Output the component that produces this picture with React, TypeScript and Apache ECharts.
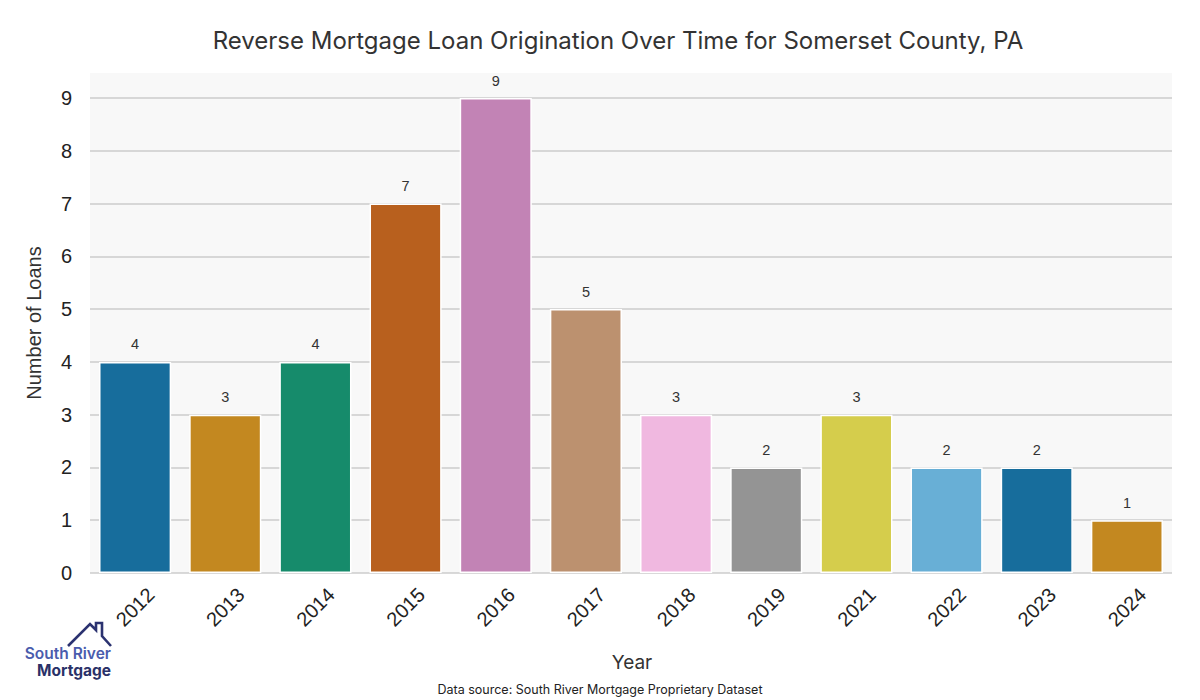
import React, { useEffect, useRef } from "react";
import * as echarts from "echarts";

const years = ["2012", "2013", "2014", "2015", "2016", "2017", "2018", "2019", "2021", "2022", "2023", "2024"];
const loans = [4, 3, 4, 7, 9, 5, 3, 2, 3, 2, 2, 1];
const barColors = ["#176d9c", "#c38820", "#168b6b", "#b8601e", "#c283b5", "#bc916f", "#f0b8e0", "#949494", "#d5cd4c", "#68afd6", "#176d9c", "#c38820"];
const yTicks = [0, 1, 2, 3, 4, 5, 6, 7, 8, 9];

const titleText = "Reverse Mortgage Loan Origination Over Time for Somerset County, PA";
const sourceText = "Data source: South River Mortgage Proprietary Dataset";

const SANS = "Inter, 'Noto Sans', sans-serif";
const ARIAL = "'Liberation Sans', Arial, sans-serif";

export default function App() {
  const ref = useRef<HTMLDivElement>(null);
  useEffect(() => {
    document.body.style.margin = "0";
    const chart = echarts.init(ref.current!, null, { renderer: "svg" });
    chart.setOption({
      animation: false,
      backgroundColor: "#ffffff",
      grid: { left: 90, right: 28, top: 98, bottom: 127, containLabel: false },
      xAxis: {
        type: "category",
        data: years,
        axisLine: { show: false },
        axisTick: { show: false },
        axisLabel: {
          rotate: 45,
          align: "center",
          verticalAlign: "middle",
          margin: 34,
          fontSize: 20,
          color: "#222222",
          fontFamily: ARIAL,
          interval: 0,
        },
      },
      yAxis: {
        type: "value",
        min: yTicks[0],
        max: yTicks[yTicks.length - 1],
        interval: 1,
        axisLine: { show: false },
        axisTick: { show: false },
        axisLabel: { fontSize: 20, color: "#222222", fontFamily: ARIAL, margin: 18 },
        splitLine: { show: true, lineStyle: { color: "#cccccc", width: 1.6 } },
      },
      series: [
        {
          type: "bar",
          data: loans.map((v, i) => ({ value: v, itemStyle: { color: barColors[i] } })),
          barWidth: "80%",
          itemStyle: { borderColor: "#ffffff", borderWidth: 1.5 },
          label: {
            show: true,
            position: "top",
            distance: 10,
            fontSize: 14.5,
            color: "#333333",
            fontFamily: ARIAL,
          },
          z: 3,
        },
      ],
      graphic: [
        {
          type: "rect",
          shape: { x: 90, y: 73, width: 1082, height: 500 },
          style: { fill: "#f8f8f8" },
          z: -10,
          silent: true,
        },
        {
          type: "text",
          x: 618,
          y: 40,
          style: {
            text: titleText,
            fontSize: 24,
            fontFamily: SANS,
            fill: "#333333",
            textAlign: "center",
            textVerticalAlign: "middle",
          },
        },
        {
          type: "text",
          x: 34,
          y: 323,
          rotation: Math.PI / 2,
          style: {
            text: "Number of Loans",
            fontSize: 20,
            fontFamily: ARIAL,
            fill: "#333333",
            textAlign: "center",
            textVerticalAlign: "middle",
          },
        },
        {
          type: "text",
          x: 632,
          y: 662,
          style: {
            text: "Year",
            fontSize: 19,
            fontFamily: SANS,
            fill: "#333333",
            textAlign: "center",
            textVerticalAlign: "middle",
          },
        },
        {
          type: "text",
          x: 600,
          y: 689,
          style: {
            text: sourceText,
            fontSize: 12.5,
            fontFamily: SANS,
            fill: "#222222",
            textAlign: "center",
            textVerticalAlign: "middle",
          },
        },
        {
          type: "polyline",
          shape: {
            points: [
              [68, 646],
              [90, 624],
              [96, 630],
              [96, 623],
              [102, 623],
              [102, 636],
              [111, 646],
            ],
          },
          style: { stroke: "#2b3270", lineWidth: 2.6, fill: "none" },
        },
        {
          type: "text",
          x: 111,
          y: 653,
          style: {
            text: "South River",
            fontSize: 15.5,
            fontWeight: 600,
            fontFamily: SANS,
            fill: "#4a5cad",
            textAlign: "right",
            textVerticalAlign: "middle",
          },
        },
        {
          type: "text",
          x: 111,
          y: 670,
          style: {
            text: "Mortgage",
            fontSize: 15.5,
            fontWeight: 700,
            fontFamily: SANS,
            fill: "#2a3168",
            textAlign: "right",
            textVerticalAlign: "middle",
          },
        },
      ],
    });
    return () => chart.dispose();
  }, []);
  return <div ref={ref} style={{ position: "fixed", left: 0, top: 0, width: 1200, height: 700 }} />;
}
